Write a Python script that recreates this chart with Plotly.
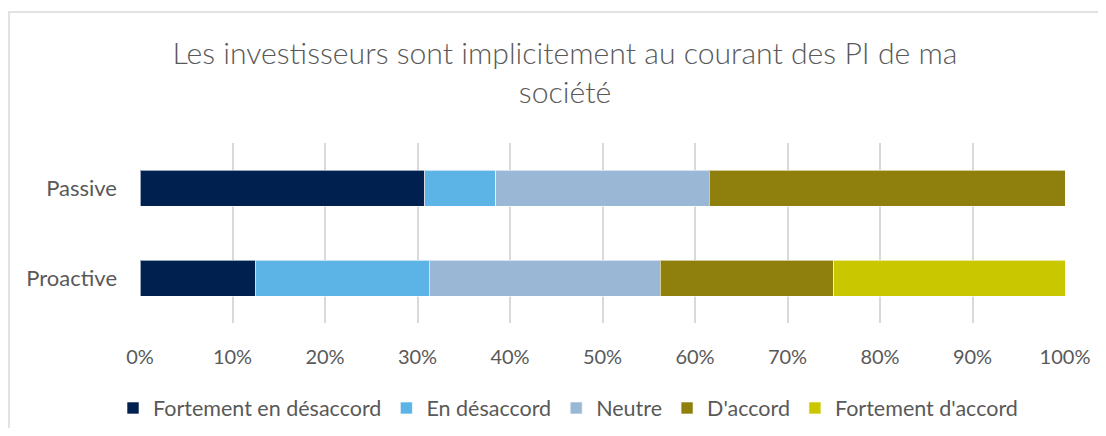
import plotly.graph_objects as go

categories = ["Passive", "Proactive"]
series_names = ["Fortement en désaccord", "En désaccord", "Neutre", "D'accord", "Fortement d'accord"]
passive_values = [30.77, 7.69, 23.08, 38.46, 0.0]
proactive_values = [12.5, 18.75, 25.0, 18.75, 25.0]
colors = ["#002050", "#5cb3e6", "#9bb7d6", "#8f7f0c", "#c9c800"]
tick_vals = [0, 10, 20, 30, 40, 50, 60, 70, 80, 90, 100]
tick_text = [f"{v}%" for v in tick_vals]
title_text = "Les investisseurs sont implicitement au courant des PI de ma<br>société"

OFF = 8  # page body margin
W, H = 1106 - 2 * OFF, 436 - 2 * OFF
L, T = 140 - OFF, 143 - OFF
R = W - (1065 - OFF)
B = H - (323 - OFF)
pw, ph = W - L - R, H - T - B
FONT = "Lato, Open Sans, sans-serif"

fig = go.Figure()
for i, name in enumerate(series_names):
    fig.add_trace(go.Bar(
        y=categories, x=[passive_values[i], proactive_values[i]],
        name=name, orientation="h", marker_color=colors[i],
        marker_line=dict(color="rgba(255,255,255,0.6)", width=1),
        width=0.4,
    ))

fig.update_layout(
    barmode="stack",
    width=W, height=H,
    margin=dict(l=L, r=R, t=T, b=B, autoexpand=False),
    paper_bgcolor="white", plot_bgcolor="white",
    font=dict(family=FONT, color="#595959", size=20),
    title=dict(text=title_text, x=(565 - OFF - L) / pw, xref="paper", xanchor="center",
               y=1 - (64 - OFF) / H, yanchor="middle",
               font=dict(size=30.2, color="#595959", family=FONT, weight=300)),
    xaxis=dict(range=[0, 100], tickvals=tick_vals, ticktext=tick_text,
               showgrid=True, gridcolor="#d9d9d9", gridwidth=1.5,
               zeroline=False, showline=False, ticks="", ticklabelstandoff=20,
               tickfont=dict(size=20, color="#595959", family=FONT)),
    yaxis=dict(range=[1.5, -0.5], autorange=False, showgrid=False,
               ticks="", ticklabelstandoff=22, showline=False,
               tickfont=dict(size=22, color="#595959", family=FONT)),
    legend=dict(orientation="h", x=(568 - 140) / pw, xanchor="center",
                y=-(408 - 323) / ph, yanchor="middle",
                font=dict(size=21.5, color="#595959", family=FONT), traceorder="normal",
                itemwidth=30),
    bargap=0.6,
    showlegend=True,
)

# outer chart border (left and top edges visible in the reference)
bx0 = (9 - 140) / pw
bx1 = (1104 - 140) / pw
by0 = -(460 - 323) / ph
by1 = 1 + (143 - 12) / ph
fig.add_shape(type="path", xref="paper", yref="paper",
              path=f"M {bx0},{by0} L {bx0},{by1} L {bx1},{by1}",
              line=dict(color="#d9d9d9", width=1.5), layer="below")

fig.write_html("out.html")
